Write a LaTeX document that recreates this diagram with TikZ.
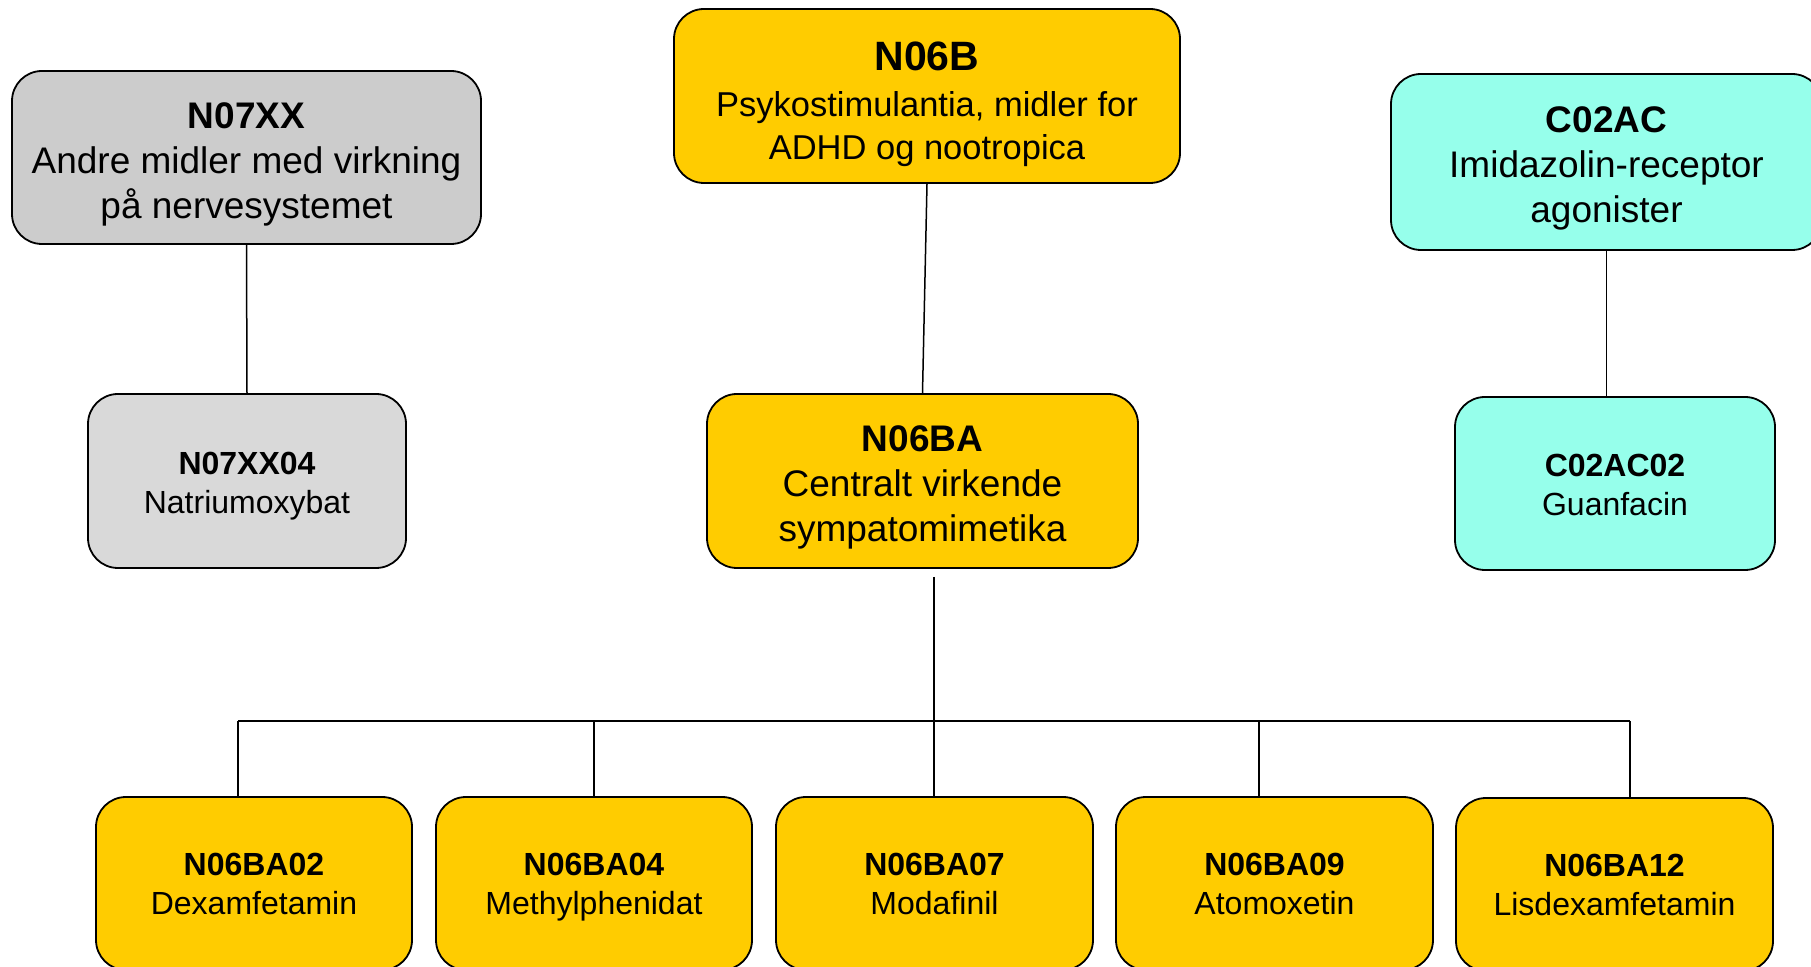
\documentclass[tikz,border=0pt]{standalone}
\usepackage{fontspec}
\setmainfont{Liberation Sans}
\definecolor{gold}{RGB}{255,204,0}
\definecolor{greyA}{RGB}{204,204,204}
\definecolor{greyB}{RGB}{217,217,217}
\definecolor{aqua}{RGB}{150,255,235}
\tikzset{
  box/.style={draw=black, line width=0.9pt, rounded corners=15pt, align=center, inner sep=0pt},
  bigtxt/.style={font=\fontsize{18.5pt}{22.5pt}\selectfont, text depth=0pt},
  smalltxt/.style={font=\fontsize{16pt}{19.5pt}\selectfont, text depth=0pt},
  link/.style={draw=black, line width=0.75pt}
}
\newcommand{\ttl}[2]{{\fontsize{#1}{#1}\selectfont\bfseries #2}}
\newcommand{\tup}[1]{\rule{0pt}{#1}}
\begin{document}
\begin{tikzpicture}[x=0.5pt,y=-0.5pt]
\useasboundingbox (0,0) rectangle (1811,967);
% top row
\node[box, bigtxt, fill=greyA, minimum width=234.5pt, minimum height=86.5pt] (n07xx) at (246.5,157.5)
  {\tup{15.6pt}\ttl{18.5pt}{N07XX}\\Andre midler med virkning\\på nervesystemet};
\node[box, fill=gold, minimum width=253pt, minimum height=87pt, font=\fontsize{17.25pt}{21.5pt}\selectfont, text depth=0pt] (n06b) at (927,96)
  {\tup{18.7pt}\ttl{20.5pt}{N06B}\\[1.5pt]Psykostimulantia, midler for\\ADHD og nootropica};
\node[box, bigtxt, fill=aqua, minimum width=215.5pt, minimum height=88pt] (c02ac) at (1606.5,162)
  {\tup{15.6pt}\ttl{18.5pt}{C02AC}\\Imidazolin-receptor\\agonister};
% middle row
\node[box, smalltxt, fill=greyB, minimum width=159pt, minimum height=87pt] (n07xx04) at (247,481)
  {\tup{13.2pt}\ttl{16pt}{N07XX04}\\Natriumoxybat};
\node[box, bigtxt, fill=gold, minimum width=215.5pt, minimum height=87pt] (n06ba) at (922.5,481)
  {\tup{15.6pt}\ttl{18.5pt}{N06BA}\\Centralt virkende\\sympatomimetika};
\node[box, smalltxt, fill=aqua, minimum width=160pt, minimum height=86.5pt] (c02ac02) at (1615,483.5)
  {\tup{12.5pt}\ttl{16pt}{C02AC02}\\Guanfacin};
% bottom row
\node[box, smalltxt, fill=gold, minimum width=158pt, minimum height=86.5pt] (ba02) at (254,883.5)
  {\ttl{16pt}{N06BA02}\\Dexamfetamin};
\node[box, smalltxt, fill=gold, minimum width=158pt, minimum height=86.5pt] (ba04) at (594,883.5)
  {\ttl{16pt}{N06BA04}\\Methylphenidat};
\node[box, smalltxt, fill=gold, minimum width=158.5pt, minimum height=86.5pt] (ba07) at (934.5,883.5)
  {\ttl{16pt}{N06BA07}\\Modafinil};
\node[box, smalltxt, fill=gold, minimum width=158.5pt, minimum height=86.5pt] (ba09) at (1274.5,883.5)
  {\ttl{16pt}{N06BA09}\\Atomoxetin};
\node[box, smalltxt, fill=gold, minimum width=158.5pt, minimum height=86.5pt] (ba12) at (1614.5,884.5)
  {\ttl{16pt}{N06BA12}\\Lisdexamfetamin};
% connectors
\draw[link] (n07xx.south) -- (n07xx04.north);
\draw[link] (n06b.south) -- (n06ba.north);
\draw[link] (c02ac.south) -- (c02ac.south |- c02ac02.north);
\coordinate (hubtop) at (934,577);
\coordinate (busL) at (238,721);
\coordinate (busR) at (1630,721);
\coordinate (d04) at (594,721);
\coordinate (d09) at (1259,721);
\draw[link] (hubtop) -- (hubtop |- ba07.north);
\draw[link] (busL) -- (busR);
\draw[link] (busL) -- (busL |- ba02.north);
\draw[link] (d04) -- (d04 |- ba04.north);
\draw[link] (d09) -- (d09 |- ba09.north);
\draw[link] (busR) -- (busR |- ba12.north);
\end{tikzpicture}
\end{document}
